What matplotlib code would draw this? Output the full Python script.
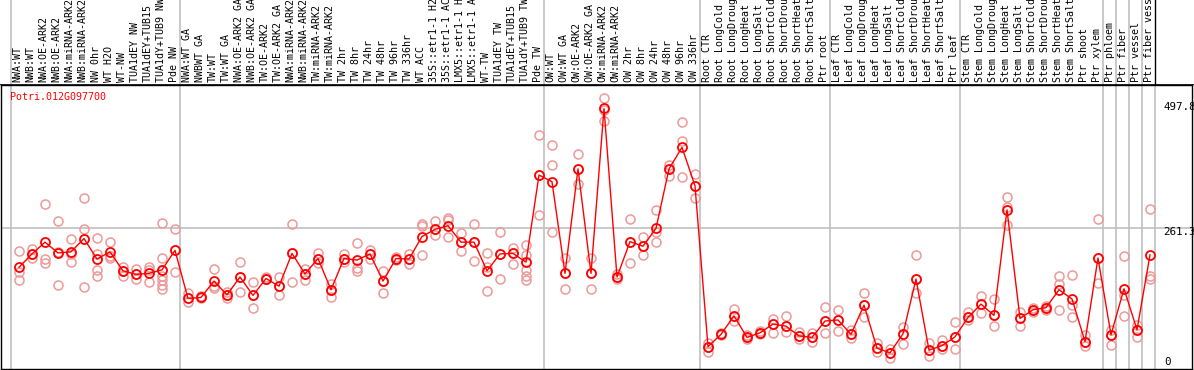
import matplotlib
matplotlib.use("Agg")
import matplotlib.pyplot as plt

title = "Potri.012G097700"

samples = [
    "NWA:WT", "NWB:WT", "NWA:OE-ARK2", "NWB:OE-ARK2", "NWA:miRNA-ARK2", "NWB:miRNA-ARK2",
    "NW 0hr", "WT H2O", "WT-NW", "TUA1dEY NW", "TUA1dEY+TUB15", "TUA1dY+TUB9 NW", "Pde NW",
    "NWA:WT GA", "NWBWT GA", "TW:WT", "TW:WT GA", "NWA:OE-ARK2 GA", "NWB:OE-ARK2 GA",
    "TW:OE-ARK2", "TW:OE-ARK2 GA", "NWA:miRNA-ARK2", "NWB:miRNA-ARK2", "TW:miRNA-ARK2",
    "TW:miRNA-ARK2", "TW 2hr", "TW 8hr", "TW 24hr", "TW 48hr", "TW 96hr", "TW 336hr", "WT ACC",
    "35S::etr1-1 H2", "35S::etr1-1 AC", "LMX5::etr1-1 H", "LMX5::etr1-1 A", "WT-TW", "TUA1dEY TW",
    "TUA1dEY+TUB15", "TUA1dY+TUB9 TW", "Pde TW",
    "OW:WT", "OW:WT GA", "OW:OE-ARK2", "OW:OE-ARK2 GA", "OW:miRNA-ARK2", "OW:miRNA-ARK2",
    "OW 2hr", "OW 8hr", "OW 24hr", "OW 48hr", "OW 96hr", "OW 336hr",
    "Root CTR", "Root LongCold", "Root LongDroug", "Root LongHeat", "Root LongSalt",
    "Root ShortCold", "Root ShortDrou", "Root ShortHeat", "Root ShortSalt", "Ptr root",
    "Leaf CTR", "Leaf LongCold", "Leaf LongDroug", "Leaf LongHeat", "Leaf LongSalt",
    "Leaf ShortCold", "Leaf ShortDrou", "Leaf ShortHeat", "Leaf ShortSalt", "Ptr leaf",
    "Stem CTR", "Stem LongCold", "Stem LongDroug", "Stem LongHeat", "Stem LongSalt",
    "Stem ShortCold", "Stem ShortDrou", "Stem ShortHeat", "Stem ShortSalt", "Ptr shoot",
    "Ptr xylem", "Ptr phloem", "Ptr fiber", "Ptr vessel", "Ptr fiber vessel",
]

means = [
    185, 211, 234, 213, 215, 241, 201, 215, 178, 171, 173, 180, 218,
    124, 126, 158, 131, 166, 130, 163, 148, 212, 172, 202, 141, 202, 199, 211, 158,
    202, 201, 245, 259, 266, 234, 234, 178, 211, 212, 195, 365,
    352, 173, 377, 173, 495, 166, 235, 226, 261, 377, 419, 344,
    30, 54, 90, 48, 57, 74, 70, 51, 48, 80,
    82, 54, 111, 27, 18, 55, 162, 23, 32, 49,
    87, 113, 91, 297, 85, 102, 106, 141, 123, 40, 203,
    53, 143, 63, 209,
]

replicates = [
    [217, 176, 160], [220, 211, 203], [308, 202, 193], [275, 214, 150], [240, 211, 195],
    [321, 259, 146], [242, 211, 180, 167], [234, 207, 204], [186, 178, 168], [181, 171, 163],
    [186, 180, 156], [271, 204, 180, 167, 160, 150, 142], [259, 218, 176],
    [134, 124, 118], [128, 126, 124], [181, 148, 144], [137, 131, 124], [195, 166, 137],
    [156, 130, 105], [165, 162, 162], [166, 148, 130], [269, 212, 156], [181, 172, 161],
    [213, 202, 193], [152, 141, 126], [211, 202, 196], [232, 183, 178], [219, 211, 201],
    [178, 158, 134], [205, 202, 199], [211, 201, 191], [269, 266, 209], [275, 259, 248],
    [281, 277, 244], [251, 234, 217], [269, 234, 197], [212, 185, 138], [254, 211, 163],
    [222, 212, 191], [228, 209, 180, 167, 160], [443, 365, 287],
    [424, 385, 253], [204, 173, 143], [406, 377, 347], [204, 173, 143], [516, 492, 471],
    [172, 166, 162], [279, 235, 193], [245, 226, 209], [297, 253, 235], [385, 377, 364],
    [468, 432, 361], [367, 344, 320],
    [38, 30, 19], [56, 54, 52], [103, 90, 81], [53, 48, 44], [61, 57, 54], [83, 74, 56],
    [90, 70, 59], [59, 51, 44], [57, 48, 40], [107, 80, 56],
    [102, 82, 61], [63, 54, 46], [134, 111, 88], [38, 27, 20], [26, 18, 7], [69, 55, 35],
    [209, 162, 134], [37, 23, 12], [42, 32, 25], [78, 49, 25],
    [98, 87, 82], [128, 113, 95], [123, 91, 70], [322, 303, 268], [98, 85, 70],
    [106, 102, 98], [110, 106, 102], [167, 152, 102], [169, 111, 88], [53, 40, 32],
    [279, 203, 154], [63, 53, 33], [206, 131, 90], [72, 63, 49], [298, 167, 163],
]

group_starts = [0, 13, 41, 53, 63, 73, 84, 85, 86, 87, 88]
tick_values = [0, 261.3, 497.8]
tick_labels = ["0", "261.3", "497.8"]

W, H = 1194, 370
RED = "#ff0000"
PINK = "#ee9999"
GRAY = "#c0c0c0"
FONT = "DejaVu Sans Mono"
FS = 7.2

fig = plt.figure(figsize=(W / 100, H / 100), dpi=100)

# pixel mapping helpers: x_pix = 19 + 13*i ; y_pix = 362 - v*0.5122
def xi(px):
    return (px - 19) / 13.0

def yv(py):
    return (362 - py) / 0.5122

ax = fig.add_axes([1 / W, 1 / H, 1191 / W, 284 / H])
ax.set_xlim(xi(1), xi(1192))
ax.set_ylim(yv(369), yv(85))
ax.set_xticks([])
ax.set_yticks([])
for s in ax.spines.values():
    s.set_color("black")
    s.set_linewidth(1.0)

# gridline
ax.axhline(261.3, color=GRAY, lw=1.2, zorder=1)
for g in group_starts:
    ax.axvline(g - 0.58, color=GRAY, lw=1.2, zorder=1)

xs = list(range(len(means)))
for i, reps in enumerate(replicates):
    ax.plot([i] * len(reps), reps, linestyle="none", marker="o", ms=6.5,
            mfc="none", mec=PINK, mew=1.1, zorder=2)
ax.plot(xs, means, color=RED, lw=1.0, zorder=3)
ax.plot(xs, means, linestyle="none", marker="o", ms=6.5, mfc="none",
        mec=RED, mew=1.3, zorder=4)

ax.text(xi(10), yv(97), title, color=RED, fontsize=FS, family=FONT,
        ha="left", va="center")

offs = {"0": 0, "261.3": -4, "497.8": 0}
for v, lab in zip(tick_values, tick_labels):
    px = 362 - v * 0.5122 - offs[lab]
    ax.text(xi(1163 if lab != "0" else 1164), yv(px), lab, fontsize=FS + 0.6,
            family=FONT, ha="left", va="center", color="black", zorder=5)

# label strip
lab_ax = fig.add_axes([0, 285 / H, 1, 85 / H])
lab_ax.set_xlim(xi(0), xi(W))
lab_ax.set_ylim(0, 85)
lab_ax.axis("off")
for i, s in enumerate(samples):
    lab_ax.text(i - 0.1, 2.5, s, rotation=90, ha="center", va="bottom",
                fontsize=FS, family=FONT, color="black", clip_on=False)
for g in group_starts[:-1]:
    lab_ax.axvline(g - 0.58, color=GRAY, lw=1.2)
lab_ax.axvline(group_starts[-1] - 0.58, color="black", lw=1.0)
lab_ax.axhline(0.5, color="black", lw=1.2)

fig.savefig("out.png", dpi=100)
